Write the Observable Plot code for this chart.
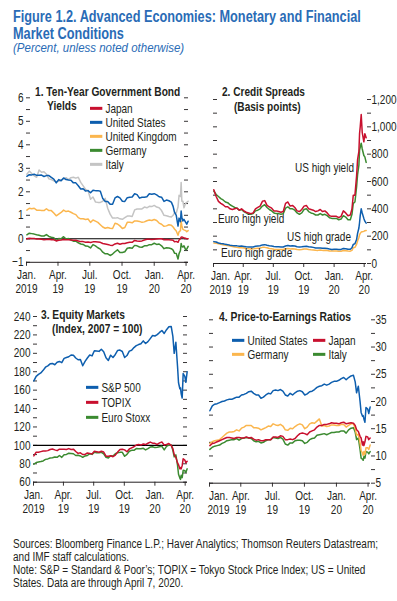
<!DOCTYPE html>
<html><head><meta charset="utf-8">
<script src="https://cdn.jsdelivr.net/npm/d3@7"></script>
<script src="https://cdn.jsdelivr.net/npm/@observablehq/plot@0.6"></script>
<style>
html,body{margin:0;padding:0;background:#fff;}
#root{position:relative;width:397px;height:601px;overflow:hidden;font-family:"Liberation Sans",Arial,sans-serif;color:#231f20;}
.t{position:absolute;white-space:nowrap;line-height:1.1;transform-origin:left center;}
.sw{display:inline-block;width:16px;height:3px;vertical-align:middle;margin-right:4px;position:relative;top:-1px;}
</style></head><body><div id="root"></div>
<script>
const dates = ["2019-01-02","2019-01-09","2019-01-16","2019-01-23","2019-01-30","2019-02-06","2019-02-13","2019-02-20","2019-02-27","2019-03-06","2019-03-13","2019-03-20","2019-03-27","2019-04-03","2019-04-10","2019-04-17","2019-04-24","2019-05-01","2019-05-08","2019-05-15","2019-05-22","2019-05-29","2019-06-05","2019-06-12","2019-06-19","2019-06-26","2019-07-03","2019-07-10","2019-07-17","2019-07-24","2019-07-31","2019-08-07","2019-08-14","2019-08-21","2019-08-28","2019-09-04","2019-09-11","2019-09-18","2019-09-25","2019-10-02","2019-10-09","2019-10-16","2019-10-23","2019-10-30","2019-11-06","2019-11-13","2019-11-20","2019-11-27","2019-12-04","2019-12-11","2019-12-18","2019-12-25","2020-01-01","2020-01-08","2020-01-15","2020-01-22","2020-01-29","2020-02-05","2020-02-12","2020-02-19","2020-02-24","2020-02-28","2020-03-04","2020-03-09","2020-03-12","2020-03-16","2020-03-18","2020-03-20","2020-03-23","2020-03-26","2020-03-31","2020-04-03","2020-04-07"];

// Panel 1: ten-year government bond yields (percent)
const yJapan = [0.00,0.02,0.01,0.01,-0.01,-0.01,-0.02,-0.04,-0.03,-0.02,-0.04,-0.04,-0.09,-0.06,-0.05,-0.03,-0.04,-0.04,-0.05,-0.06,-0.06,-0.09,-0.12,-0.12,-0.15,-0.14,-0.16,-0.13,-0.13,-0.14,-0.15,-0.20,-0.22,-0.24,-0.27,-0.28,-0.22,-0.19,-0.23,-0.20,-0.20,-0.17,-0.15,-0.15,-0.07,-0.09,-0.10,-0.09,-0.05,-0.02,-0.02,-0.03,-0.02,-0.01,0.00,0.00,-0.04,-0.03,-0.04,-0.05,-0.06,-0.13,-0.11,-0.15,-0.05,0.00,0.07,0.08,0.06,0.03,0.02,0.00,0.00];
const yUS = [2.66,2.73,2.72,2.75,2.70,2.70,2.71,2.65,2.69,2.69,2.61,2.54,2.38,2.52,2.47,2.59,2.52,2.50,2.49,2.38,2.38,2.26,2.12,2.13,2.03,2.05,1.96,2.07,2.05,2.05,2.02,1.71,1.59,1.59,1.47,1.47,1.74,1.80,1.74,1.60,1.59,1.75,1.77,1.78,1.92,1.88,1.73,1.77,1.77,1.79,1.92,1.90,1.92,1.87,1.79,1.77,1.59,1.65,1.62,1.56,1.38,1.13,1.00,0.54,0.88,0.73,1.18,0.92,0.76,0.83,0.70,0.62,0.75];
const yUK = [1.22,1.30,1.28,1.30,1.22,1.22,1.20,1.20,1.28,1.20,1.20,1.10,0.98,1.05,1.12,1.22,1.16,1.18,1.13,1.07,1.03,0.90,0.85,0.85,0.82,0.84,0.70,0.80,0.75,0.70,0.60,0.50,0.45,0.48,0.45,0.44,0.66,0.63,0.55,0.44,0.48,0.70,0.70,0.68,0.76,0.76,0.74,0.70,0.72,0.77,0.80,0.78,0.82,0.78,0.67,0.62,0.53,0.55,0.60,0.58,0.50,0.42,0.33,0.15,0.30,0.35,0.75,0.55,0.40,0.38,0.35,0.30,0.35];
const yGermany = [0.17,0.24,0.22,0.20,0.17,0.15,0.12,0.12,0.18,0.10,0.07,0.05,-0.07,0.01,0.00,0.09,-0.01,0.01,-0.05,-0.10,-0.10,-0.17,-0.22,-0.24,-0.31,-0.32,-0.39,-0.25,-0.30,-0.38,-0.44,-0.57,-0.64,-0.64,-0.71,-0.65,-0.55,-0.47,-0.58,-0.58,-0.55,-0.40,-0.38,-0.40,-0.28,-0.30,-0.35,-0.36,-0.30,-0.30,-0.25,-0.25,-0.19,-0.24,-0.22,-0.30,-0.42,-0.38,-0.39,-0.42,-0.48,-0.61,-0.62,-0.86,-0.63,-0.50,-0.20,-0.32,-0.35,-0.30,-0.47,-0.44,-0.32];
const yItaly = [2.75,2.88,2.78,2.68,2.62,2.93,2.83,2.85,2.75,2.55,2.52,2.47,2.43,2.45,2.50,2.55,2.60,2.52,2.60,2.62,2.58,2.62,2.40,2.25,2.10,2.05,1.68,1.78,1.57,1.55,1.55,1.60,1.72,1.30,1.05,0.88,0.88,0.90,0.85,0.83,0.90,0.97,0.97,0.95,1.23,1.27,1.27,1.27,1.35,1.32,1.38,1.37,1.42,1.35,1.32,1.20,1.00,0.98,0.95,0.93,1.00,1.10,1.10,1.35,1.85,1.80,2.40,1.60,1.60,1.32,1.52,1.55,1.60];

// Panel 2: credit spreads (basis points)
const usHighYield = [540,490,455,440,430,415,415,400,395,400,405,390,400,385,375,370,365,370,400,410,420,455,460,425,415,405,385,385,380,375,380,440,450,420,425,410,385,380,395,420,425,400,395,390,380,385,395,380,385,370,350,345,345,345,335,345,385,370,350,355,400,500,500,640,760,820,950,1000,1090,960,890,950,920];
const euroHighYield = [530,505,490,475,465,450,445,430,420,410,405,390,395,380,370,360,360,365,385,390,400,420,430,410,395,385,370,365,365,360,365,405,415,400,400,390,370,360,370,395,400,380,370,365,355,355,365,355,360,350,335,330,330,330,320,325,350,340,320,320,360,440,450,560,650,720,830,850,880,840,790,780,740];
const usHighGrade = [160,157,150,146,144,140,138,134,131,130,129,127,128,125,122,121,120,121,126,128,130,136,138,133,130,128,124,122,122,120,121,128,132,128,130,128,122,120,122,125,126,122,120,118,114,113,114,112,112,110,106,103,104,104,102,103,110,108,104,104,115,140,145,175,220,260,300,350,400,370,330,310,295];
const euroHighGrade = [150,148,145,140,137,134,132,128,124,120,118,115,116,113,110,108,107,107,110,112,113,118,118,115,110,108,104,103,103,102,103,108,110,107,108,106,102,100,102,106,106,102,100,99,97,96,98,96,97,95,92,92,92,92,90,90,95,94,91,90,96,115,118,140,165,190,210,220,230,232,235,240,242];

// Panel 3: equity markets (index, 2007 = 100)
const sp500 = [170.0,175.0,177.1,178.7,181.5,184.9,186.4,188.6,189.0,187.6,190.3,191.2,189.9,194.5,195.5,196.3,198.2,198.0,194.9,193.0,193.4,186.5,191.3,194.9,198.1,197.2,202.8,202.6,202.1,204.4,201.8,195.3,192.3,198.0,195.5,198.8,203.1,203.5,202.0,195.5,197.6,202.4,203.4,206.2,208.3,209.5,210.4,213.5,210.7,212.7,216.0,219.4,218.8,220.3,222.7,224.8,221.6,225.7,228.8,229.2,218.4,200.0,212.0,186.0,168.0,161.5,162.4,156.0,151.5,178.0,175.0,168.5,180.0];
const topix = [88.6,92.5,92.6,93.2,93.8,93.8,94.3,95.5,96.1,95.1,94.3,95.9,95.9,95.8,95.6,96.5,95.5,95.9,93.4,91.3,91.9,90.1,90.2,91.7,91.3,90.7,93.5,93.1,92.5,93.7,92.8,88.3,88.3,88.7,87.7,89.5,92.7,95.6,95.8,95.1,93.1,96.1,97.3,98.5,100.3,100.9,100.3,101.5,100.9,102.3,103.6,102.4,102.2,101.0,102.7,103.6,100.3,100.9,102.0,100.1,96.5,90.0,87.0,81.0,79.0,74.5,76.0,74.5,78.0,85.5,84.0,81.0,82.8];
const euroStoxx = [79.5,81.4,81.9,82.4,83.1,84.8,85.3,86.3,86.5,87.3,87.0,89.0,87.0,89.7,90.2,91.4,91.2,90.9,89.0,89.2,88.5,87.0,88.5,89.0,90.9,90.2,92.6,91.9,91.9,92.4,90.9,87.0,86.3,88.7,88.5,90.9,92.1,92.4,92.4,88.2,90.2,93.6,94.6,94.6,96.5,96.3,96.3,96.8,95.1,96.5,98.2,98.5,97.6,98.0,98.5,99.0,95.1,99.0,100.2,100.5,94.6,87.5,89.7,78.5,68.6,64.5,63.0,67.5,65.0,73.0,72.5,70.5,74.5];

// Panel 4: price-to-earnings ratios
const peUS = [18.3,19.2,19.5,19.6,19.8,20.0,20.1,20.3,20.4,20.4,20.6,20.8,20.8,21.2,21.3,21.5,21.8,21.9,21.5,21.2,21.2,20.6,20.8,21.2,21.5,21.4,22.0,22.1,22.0,22.2,21.9,21.2,21.0,21.5,21.2,21.6,21.9,22.0,21.8,21.2,21.4,21.8,21.9,22.2,22.6,22.8,22.9,23.2,23.0,23.2,23.5,23.7,23.7,23.9,24.2,24.4,24.0,24.4,24.7,24.8,23.6,21.6,22.8,20.0,18.0,17.3,17.4,16.8,16.2,18.9,18.6,17.8,19.0];
const peJapan = [11.9,12.3,12.4,12.6,12.8,13.0,13.2,13.4,13.4,13.3,13.2,13.4,13.4,13.3,13.3,13.5,13.3,13.4,13.1,12.9,13.0,12.8,12.8,13.0,13.0,13.0,13.5,13.5,13.4,13.7,13.6,13.0,13.0,13.1,13.0,13.2,13.7,14.1,14.2,14.1,13.9,14.4,14.6,14.8,15.3,15.6,15.6,15.8,15.8,15.9,16.1,16.0,16.0,15.9,16.1,16.2,15.9,16.0,16.1,16.0,15.6,14.8,14.5,13.6,13.3,12.0,12.6,11.9,12.6,13.6,13.5,13.0,13.3];
const peGermany = [12.3,12.6,12.8,12.9,13.0,13.4,13.8,14.2,14.4,14.4,14.5,14.8,14.6,15.1,15.3,15.6,15.6,15.6,15.2,15.2,15.1,14.8,15.0,15.2,15.5,15.4,15.9,15.7,15.6,15.8,15.5,14.8,14.7,15.1,15.0,15.4,15.7,15.9,15.7,15.0,15.3,15.9,16.1,16.0,16.4,16.8,15.5,15.6,15.4,15.5,15.7,15.7,15.6,15.6,15.8,15.8,15.3,15.6,15.9,15.9,15.0,13.8,14.0,12.4,11.0,10.5,10.1,10.8,10.3,11.5,11.5,11.2,12.0];
const peItaly = [11.2,11.6,11.8,11.9,12.0,12.3,12.5,12.8,12.9,13.0,13.0,13.2,12.9,13.2,13.3,13.4,13.3,13.2,12.8,12.6,12.7,12.4,12.5,12.8,13.0,13.0,13.4,13.3,13.2,13.4,13.1,12.2,12.0,12.4,12.4,12.8,12.9,12.9,12.8,12.3,12.5,13.0,13.2,13.3,13.8,13.9,14.0,14.1,13.9,14.1,14.3,14.3,14.4,14.4,14.6,14.6,14.2,14.8,15.1,15.2,14.4,13.0,13.3,11.2,9.6,9.4,9.2,9.9,9.6,10.8,10.7,10.4,10.8];

const xTickDates = ["2019-01-01","2019-04-01","2019-07-01","2019-10-01","2020-01-01","2020-04-01"];
const xTickLabels = ["Jan.\n2019","Apr.\n19","Jul.\n19","Oct.\n19","Jan.\n20","Apr.\n20"];

const parse = d3.utcParse("%Y-%m-%d");
const D = dates.map(parse);
const xTicks = xTickDates.map(parse);
const xDomain = [parse("2019-01-01"), parse("2020-04-08")];
const ink = "#231f20";
const C = {blue:"#0d5eae", red:"#c8102e", orange:"#fbb64e", green:"#3b8a30", gray:"#c4c4c4"};
const FONT = '"Liberation Sans",Arial,sans-serif';
const SX = 0.77; // horizontal condensing of text
const root = document.getElementById("root");

function rows(vals){ return vals.map((v,i)=>({date:D[i], value:v})); }

function condenseSvgText(svg){
  svg.querySelectorAll("text").forEach(t => {
    const tr = t.getAttribute("transform") || "";
    t.setAttribute("transform", tr + ` scale(${SX},1)`);
  });
}

function panel(cfg){
  const {left, top, width, height, mL, mR, mT, mB, yDomain, yStep, yLabelStep, side, yFormat, series, refLine, janDx} = cfg;
  const fw = width - mL - mR, fh = height - mT - mB;
  const yTicks = d3.range(yDomain[0], yDomain[1] + yStep/2, yStep);
  const isLab = d => Math.abs(Math.round(d / yLabelStep) * yLabelStep - d) < 1e-9;
  const fmtX = d => xTickLabels[xTicks.findIndex(t => +t === +d)];
  const marks = [];
  marks.push(Plot.tickY(yTicks, {y: d => d, insetRight: fw - 4, stroke: ink, strokeWidth: 0.9}));
  if (side === "left") {
    marks.push(Plot.tickY(yTicks, {y: d => d, insetLeft: fw - 4, stroke: ink, strokeWidth: 0.9}));
    marks.push(Plot.axisY(yTicks.filter(isLab), {anchor: "left", tickSize: 0, tickPadding: 3, tickFormat: yFormat, label: null, fill: ink}));
  } else {
    marks.push(Plot.axisY(yTicks, {anchor: "right", tickSize: 4, tickPadding: 1, tickFormat: d => isLab(d) ? yFormat(d) : "", label: null, stroke: ink, fill: ink, strokeWidth: 0.9}));
  }
  marks.push(Plot.tickX(xTicks, {x: d => d, insetTop: fh, insetBottom: -4, stroke: ink, strokeWidth: 0.9}));
  marks.push(Plot.axisX(xTicks.slice(1), {tickSize: 0, tickPadding: 6.5, tickFormat: fmtX, label: null, fill: ink, lineHeight: 1.1}));
  marks.push(Plot.axisX(xTicks.slice(0, 1), {tickSize: 0, tickPadding: 6.5, tickFormat: fmtX, label: null, fill: ink, lineHeight: 1.1, dx: janDx || 0}));
  marks.push(Plot.ruleY([yDomain[0]], {stroke: ink, strokeWidth: 1}));
  if (refLine != null) marks.push(Plot.ruleY([refLine], {stroke: "#000", strokeWidth: 1.1}));
  for (const s of series) marks.push(Plot.lineY(rows(s.values), {x: "date", y: "value", stroke: s.color, strokeWidth: 1.5}));
  const svg = Plot.plot({
    width, height, marginLeft: mL, marginRight: mR, marginTop: mT, marginBottom: mB,
    x: {type: "utc", domain: xDomain},
    y: {domain: yDomain},
    style: {fontFamily: FONT, fontSize: "13px", background: "transparent", overflow: "visible", color: ink},
    marks
  });
  svg.style.position = "absolute";
  svg.style.left = left + "px";
  svg.style.top = top + "px";
  root.appendChild(svg);
  condenseSvgText(svg);
}

const fmtNum = d3.format(",");

panel({left:0, top:80, width:200, height:230, mL:26, mR:12, mT:17.3, mB:48.2,
  yDomain:[-1,6], yStep:0.5, yLabelStep:1, side:"left", yFormat: d3.format("d"), refLine:0,
  series:[{values:yItaly,color:C.gray},{values:yUK,color:C.orange},{values:yGermany,color:C.green},{values:yJapan,color:C.red},{values:yUS,color:C.blue}]});

panel({left:200, top:80, width:197, height:230, mL:13, mR:31, mT:19, mB:47,
  yDomain:[0,1200], yStep:100, yLabelStep:200, side:"right", yFormat: fmtNum, janDx: 7,
  series:[{values:euroHighGrade,color:C.orange},{values:usHighGrade,color:C.blue},{values:euroHighYield,color:C.green},{values:usHighYield,color:C.red}]});

panel({left:0, top:300, width:200, height:230, mL:33, mR:13, mT:16, mB:48.3,
  yDomain:[60,240], yStep:10, yLabelStep:20, side:"left", yFormat: d3.format("d"), refLine:100,
  series:[{values:euroStoxx,color:C.green},{values:topix,color:C.red},{values:sp500,color:C.blue}]});

panel({left:200, top:300, width:197, height:230, mL:9, mR:27, mT:19.3, mB:47.3,
  yDomain:[5,35], yStep:2.5, yLabelStep:5, side:"right", yFormat: d3.format("d"), janDx: 9,
  series:[{values:peItaly,color:C.green},{values:peGermany,color:C.orange},{values:peJapan,color:C.red},{values:peUS,color:C.blue}]});

// HTML text helper: y is the vertical centre; text is condensed horizontally,
// either by the fixed factor or to fit a target width.
function txt(html, x, y, css, fit){
  const d = document.createElement("div");
  d.className = "t";
  d.innerHTML = html;
  d.style.left = x + "px";
  d.style.top = y + "px";
  d.style.fontSize = "13px";
  if (css) d.style.cssText += css;
  root.appendChild(d);
  let s = SX;
  if (typeof fit === "number" && fit > 5) s = fit / d.offsetWidth;
  else if (typeof fit === "number") s = fit;
  d.style.transform = `translateY(-50%) scaleX(${s})`;
  return s;
}
function leg(label, color, x, y){
  return txt(`<span class="sw" style="background:${color}"></span>${label}`, x, y);
}

// Title block
const blue = "#2a6cb6";
const ts = txt("Figure 1.2. Advanced Economies: Monetary and Financial", 13, 16.5, `font-size:16px;font-weight:bold;color:${blue};`, 348);
txt("Market Conditions", 13, 34, `font-size:16px;font-weight:bold;color:${blue};`, ts);
txt("(Percent, unless noted otherwise)", 13, 49, `font-size:12.5px;font-style:italic;color:${blue};`, 171);

// Panel titles
const pt = "font-weight:bold;";
const p1 = txt("1. Ten-Year Government Bond", 35, 92, pt, 145);
txt("Yields", 46.5, 106, pt, p1);
const p2 = txt("2. Credit Spreads", 222, 92, pt, 83);
txt("(Basis points)", 233.5, 107, pt, p2);
const p3 = txt("3. Equity Markets", 41, 315, pt, 84);
txt("(Index, 2007 = 100)", 52, 329, pt, p3);
txt("4. Price-to-Earnings Ratios", 219, 317, pt, 132);

// Legends
leg("Japan", C.red, 90, 109);
leg("United States", C.blue, 90, 123);
leg("United Kingdom", C.orange, 90, 137);
leg("Germany", C.green, 90, 151);
leg("Italy", C.gray, 90, 165);

leg("S&amp;P 500", C.blue, 86, 388);
leg("TOPIX", C.red, 86, 403);
leg("Euro Stoxx", C.green, 86, 418);

leg("United States", C.blue, 232, 341);
leg("Japan", C.red, 313, 341);
leg("Germany", C.orange, 232, 355);
leg("Italy", C.green, 313, 355);

// Panel 2 annotations
txt("US high yield", 295, 168);
txt("Euro high yield", 218, 219);
txt("US high grade", 287, 237);
txt("Euro high grade", 221, 253);

// Footer
txt("Sources: Bloomberg Finance L.P.; Haver Analytics; Thomson Reuters Datastream;<br>and IMF staff calculations.<br>Note: S&amp;P = Standard &amp; Poor’s; TOPIX = Tokyo Stock Price Index; US = United<br>States. Data are through April 7, 2020.", 13, 564, "font-size:12.5px;line-height:13px;", 365);
</script></body></html>
